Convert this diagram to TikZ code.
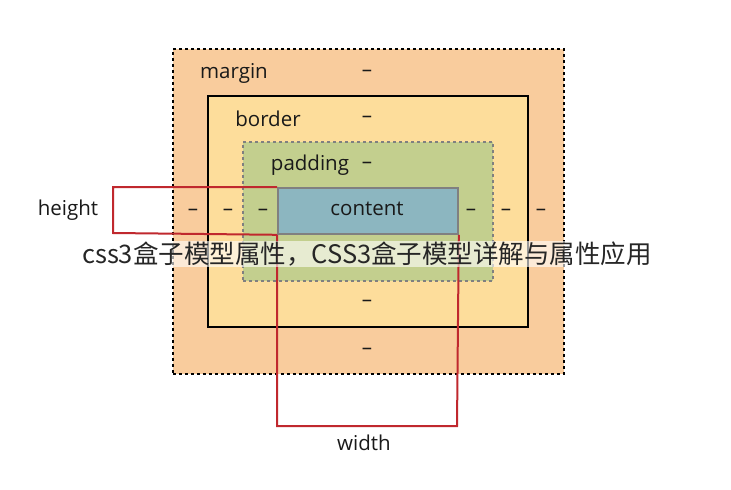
\documentclass[tikz,border=0pt]{standalone}
\usepackage{fontspec}
\setmainfont{Open Sans}
\newfontfamily\cjk{Noto Sans CJK SC}
\definecolor{cmargin}{HTML}{F9CC9D}
\definecolor{cborder}{HTML}{FDDD9B}
\definecolor{cpad}{HTML}{C3CF8E}
\definecolor{ccont}{HTML}{8CB6C0}
\definecolor{cred}{HTML}{C0282E}
\begin{document}
\begin{tikzpicture}[x=1pt,y=-1pt,
  lbl/.style={font=\fontsize{20.5}{24}\selectfont, text=black!90},
  redl/.style={draw=cred, line width=2pt}]
\useasboundingbox[fill=white] (0,0) rectangle (731,490);
\node[draw=black, dashed, line width=1.8pt, fill=cmargin, minimum width=391pt, minimum height=325pt, anchor=north west, inner sep=0] (mg) at (172,48) {};
\node[draw=black, line width=2.2pt, fill=cborder, minimum width=320pt, minimum height=231pt, anchor=north west, inner sep=0] (bd) at (207,95) {};
\node[draw=black!50, dashed, line width=1.8pt, fill=cpad, minimum width=250pt, minimum height=139pt, anchor=north west, inner sep=0] (pd) at (242,141) {};
\node[draw=black!50, line width=1.8pt, fill=ccont, minimum width=180pt, minimum height=46pt, anchor=north west, inner sep=0] (ct) at (277,187) {};
\node[lbl] (tm) at (234,73) {margin};
\node[lbl] (dm) at (367,73) {–};
\node[lbl] (tb) at (268,119) {border};
\node[lbl] (db) at (367,119) {–};
\node[lbl] (tp) at (310,165) {padding};
\node[lbl] (dp) at (367,165) {–};
\node[lbl] (tc) at (367,209) {content};
\node[lbl] (th) at (68,210) {height};
\node[lbl] (tw) at (364,443) {width};
\foreach \x/\n in {193/a,228/b,263/c,471/d,506/e,541/f} \node[lbl] (s\n) at (\x,212) {–};
\node[lbl] (sb1) at (367,303) {–};
\node[lbl] (sb2) at (367,351) {–};
\coordinate (h1) at (113,187); \coordinate (h2) at (113,233);
\draw[redl] (ct.north west) -- (h1) -- (h2) -- (ct.south west);
\coordinate (w1) at (277,426); \coordinate (w2) at (457,426);
\draw[redl] (ct.south west) -- (w1) -- (w2) -- (ct.south east);
\node[fill=white, fill opacity=0.6, text opacity=1, text=black!85, font=\cjk\fontsize{25.5}{28}\selectfont, inner sep=1pt] (wm) at (367,254) {css3盒子模型属性，CSS3盒子模型详解与属性应用};
\end{tikzpicture}
\end{document}
